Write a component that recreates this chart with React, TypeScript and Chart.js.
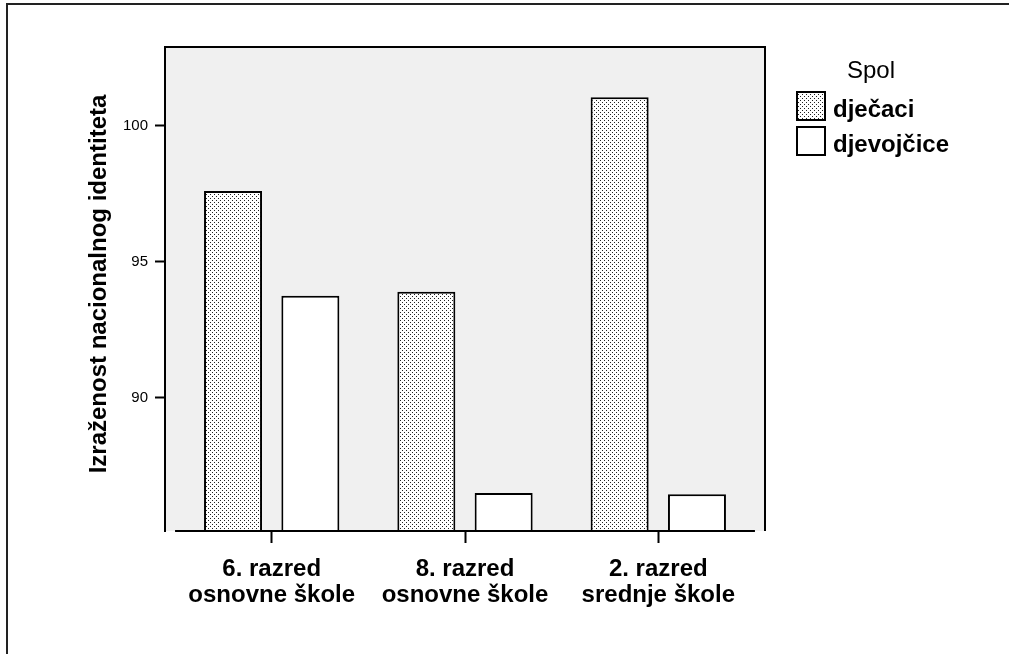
import React, { useEffect, useRef } from "react";
import { Chart, registerables } from "chart.js";

Chart.register(...registerables);

// ---- data ----
const CATEGORIES: string[][] = [
  ["6. razred", "osnovne škole"],
  ["8. razred", "osnovne škole"],
  ["2. razred", "srednje škole"],
];
const SERIES_NAMES: string[] = ["dječaci", "djevojčice"];
const DJECACI: number[] = [97.6, 93.9, 101.05];
const DJEVOJCICE: number[] = [93.75, 86.5, 86.45];
const Y_TICKS: number[] = [90, 95, 100];
const Y_TITLE = "Izraženost nacionalnog identiteta";
const LEGEND_TITLE = "Spol";

const FONT = "'Liberation Sans', Arial, sans-serif";

export default function App() {
  const ref = useRef<HTMLCanvasElement>(null);

  useEffect(() => {
    const canvas = ref.current!;
    const ctx = canvas.getContext("2d")!;
    const tile = document.createElement("canvas");
    tile.width = 4;
    tile.height = 4;
    const t = tile.getContext("2d")!;
    t.fillStyle = "#ffffff";
    t.fillRect(0, 0, 4, 4);
    t.fillStyle = "#222222";
    t.fillRect(0, 0, 1, 1);
    t.fillRect(2, 2, 1, 1);
    const pattern = ctx.createPattern(tile, "repeat")!;

    const fills: any[] = [pattern, "#ffffff"];

    const framePlugin = {
      id: "frame",
      beforeDraw(chart: any) {
        const c = chart.ctx;
        const a = chart.chartArea;
        c.save();
        c.fillStyle = "#ffffff";
        c.fillRect(0, 0, chart.width, chart.height);
        c.strokeStyle = "#222222";
        c.lineWidth = 2;
        c.beginPath();
        c.moveTo(7, chart.height);
        c.lineTo(7, 4);
        c.lineTo(chart.width, 4);
        c.stroke();
        c.fillStyle = "#f0f0f0";
        c.fillRect(a.left, a.top, a.right - a.left, a.bottom - a.top);
        c.strokeStyle = "#000000";
        c.beginPath();
        c.moveTo(a.left, a.top);
        c.lineTo(a.right, a.top);
        c.lineTo(a.right, a.bottom);
        c.stroke();
        c.restore();
      },
      afterDraw(chart: any) {
        const c = chart.ctx;
        const a = chart.chartArea;
        const xs = chart.scales.x;
        c.save();
        // x axis line spanning the categories
        c.strokeStyle = "#000000";
        c.lineWidth = 2;
        c.beginPath();
        c.moveTo(xs.getPixelForValue(-0.5), a.bottom);
        c.lineTo(xs.getPixelForValue(CATEGORIES.length - 0.5), a.bottom);
        c.stroke();

        // y title
        c.fillStyle = "#000000";
        c.font = `bold 24px ${FONT}`;
        c.textAlign = "center";
        c.textBaseline = "middle";
        c.save();
        c.translate(99, 284);
        c.rotate(-Math.PI / 2);
        c.fillText(Y_TITLE, 0, 0);
        c.restore();

        // legend
        c.font = `24px ${FONT}`;
        c.textAlign = "center";
        c.textBaseline = "alphabetic";
        c.fillText(LEGEND_TITLE, 871, 78);
        const boxTops = [92, 127];
        const baselines = [117, 152];
        chart.data.datasets.forEach((ds: any, i: number) => {
          c.fillStyle = ds.backgroundColor;
          c.fillRect(797, boxTops[i], 28, 28);
          c.strokeStyle = "#000000";
          c.lineWidth = 2;
          c.strokeRect(797, boxTops[i], 28, 28);
          c.fillStyle = "#000000";
          c.font = `bold 24px ${FONT}`;
          c.textAlign = "left";
          c.fillText(ds.label, 833, baselines[i]);
        });
        c.restore();
      },
    };

    const chart = new Chart(canvas, {
      type: "bar",
      data: {
        datasets: [DJECACI, DJEVOJCICE].map((vals, si) => ({
          label: SERIES_NAMES[si],
          data: vals.map((v, i) => ({ x: i, y: v })),
          backgroundColor: fills[si],
          borderColor: "#000000",
          borderWidth: 2,
          borderSkipped: false,
          categoryPercentage: 0.8,
          barPercentage: 0.75,
        })),
      },
      options: {
        animation: false,
        responsive: false,
        maintainAspectRatio: false,
        events: [],
        layout: { padding: { left: 0, right: 244, top: 47, bottom: 0 } },
        plugins: {
          legend: { display: false },
          tooltip: { enabled: false },
          title: { display: false },
        },
        scales: {
          x: {
            type: "linear",
            min: -0.552,
            max: 2.552,
            offset: false,
            grid: {
              offset: false,
              drawOnChartArea: false,
              drawTicks: true,
              tickLength: 12,
              tickWidth: 2,
              tickColor: "#000000",
            },
            border: { display: false },
            afterBuildTicks: (scale: any) => {
              scale.ticks = CATEGORIES.map((_, i) => ({ value: i }));
            },
            afterFit: (scale: any) => {
              scale.height = 123;
            },
            ticks: {
              autoSkip: false,
              maxRotation: 0,
              minRotation: 0,
              padding: 13,
              color: "#000000",
              font: { family: FONT, size: 24, weight: "bold", lineHeight: 1.1 },
              callback: (value: any) => CATEGORIES[value as number] ?? "",
            },
          },
          y: {
            type: "linear",
            min: 85.1,
            max: 102.9,
            beginAtZero: false,
            grid: {
              drawOnChartArea: false,
              drawTicks: true,
              tickLength: 10,
              tickWidth: 2,
              tickColor: "#000000",
            },
            border: { display: true, color: "#000000", width: 2 },
            afterBuildTicks: (scale: any) => {
              scale.ticks = Y_TICKS.map((v) => ({ value: v }));
            },
            afterFit: (scale: any) => {
              scale.width = 165;
            },
            ticks: {
              padding: 7,
              color: "#000000",
              font: { family: FONT, size: 15 },
              callback: (value: any) => String(value),
            },
          },
        },
      },
      plugins: [framePlugin],
    } as any);

    return () => chart.destroy();
  }, []);

  return (
    <div style={{ position: "absolute", left: 0, top: 0, width: 1009, height: 654 }}>
      <canvas ref={ref} width={1009} height={654} style={{ display: "block" }} />
    </div>
  );
}
